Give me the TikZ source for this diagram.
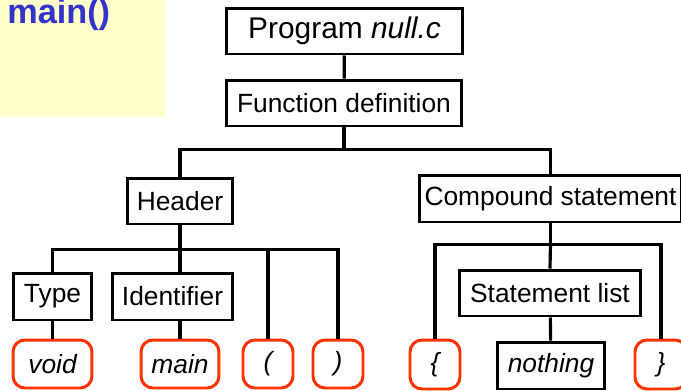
\documentclass[tikz,border=0pt]{standalone}
\usepackage{fontspec}
\setmainfont{Liberation Sans}
\usepackage{tikz}
\usetikzlibrary{positioning}
\usepackage{xcolor}
\definecolor{notebg}{HTML}{FFFFCC}
\definecolor{titleblue}{HTML}{3333CC}
\definecolor{tokred}{HTML}{FF3300}

\tikzset{
  box/.style={draw,line width=1.7pt,inner sep=0pt,font=\fontsize{15}{18}\selectfont},
  leaf/.style={draw=tokred,line width=1.7pt,rounded corners=0.24cm,inner sep=0pt,
               font=\fontsize{15}{18}\selectfont\itshape},
  link/.style={line width=1.8pt}
}

\begin{document}
\begin{tikzpicture}[x=0.02cm,y=-0.02cm]
  \useasboundingbox (0,0) rectangle (681,390);
  % note in the corner
  \fill[notebg] (0,0) rectangle (165,117);
  \node[anchor=base west,inner sep=0pt,font=\fontsize{19.5}{22}\selectfont\bfseries,text=titleblue]
    (title) at (7,23) {main()};
  % upper part of the tree
  \node[box,minimum width=4.74cm,minimum height=0.92cm,font=\fontsize{17}{20}\selectfont]
    (prog) at (344.5,31) {Program \textit{null.c}};
  \node[box,minimum width=4.72cm,minimum height=0.92cm] (fundef) at (344,103) {Function definition};
  \node[box,minimum width=2.12cm,minimum height=0.92cm] (header) at (180,201) {Header};
  \node[box,minimum width=5.26cm,minimum height=0.94cm] (compound) at (550.5,198.5) {Compound statement};
  % header subtree
  \node[box,minimum width=1.58cm,minimum height=0.94cm] (type) at (52.5,296.5) {Type};
  \node[box,minimum width=2.42cm,minimum height=0.94cm] (ident) at (172.5,296.5) {Identifier};
  \node[leaf,minimum width=1.58cm,minimum height=0.96cm] (void) at (52.5,364) {void};
  \node[leaf,minimum width=1.56cm,minimum height=0.96cm] (main) at (180,364) {main};
  \node[leaf,minimum width=1.00cm,minimum height=0.96cm] (lparen) at (268,364) {(};
  \node[leaf,minimum width=1.00cm,minimum height=0.96cm] (rparen) at (338,364) {)};
  % compound subtree
  \node[box,minimum width=3.64cm,minimum height=0.92cm] (stmts) at (550,293) {Statement list};
  \node[box,minimum width=2.16cm,minimum height=0.94cm,font=\fontsize{15}{18}\selectfont\itshape]
    (nothing) at (551,365.5) {nothing};
  \node[leaf,minimum width=1.00cm,minimum height=0.98cm] (lbrace) at (435,364.5) {\{};
  \node[leaf,minimum width=1.04cm,minimum height=0.98cm] (rbrace) at (661,364.5) {\}};
  % connectors
  \draw[link] (prog) -- (fundef);
  \path (fundef.south) ++(0,22) coordinate (barA);
  \draw[link] (fundef.south) -- (barA);
  \draw[link] (header.north) |- (barA) -| (compound.north);
  \path (header.south) ++(0,24) coordinate (barB);
  \draw[link] (header.south) -- (barB);
  \draw[link] (type.north) |- (barB) -| (rparen.north);
  \draw[link] (lparen.north) |- (barB);
  \draw[link] (barB) -- (barB |- ident.north);
  \draw[link] (type) -- (void);
  \draw[link] (ident.south -| main.north) -- (main.north);
  \path (compound.south) ++(0,21) coordinate (barC);
  \draw[link] (compound.south) -- (barC);
  \draw[link] (lbrace.north) |- (barC) -| (rbrace.north);
  \draw[link] (barC) -- (stmts.north);
  \draw[link] (stmts) -- (nothing);
\end{tikzpicture}
\end{document}
